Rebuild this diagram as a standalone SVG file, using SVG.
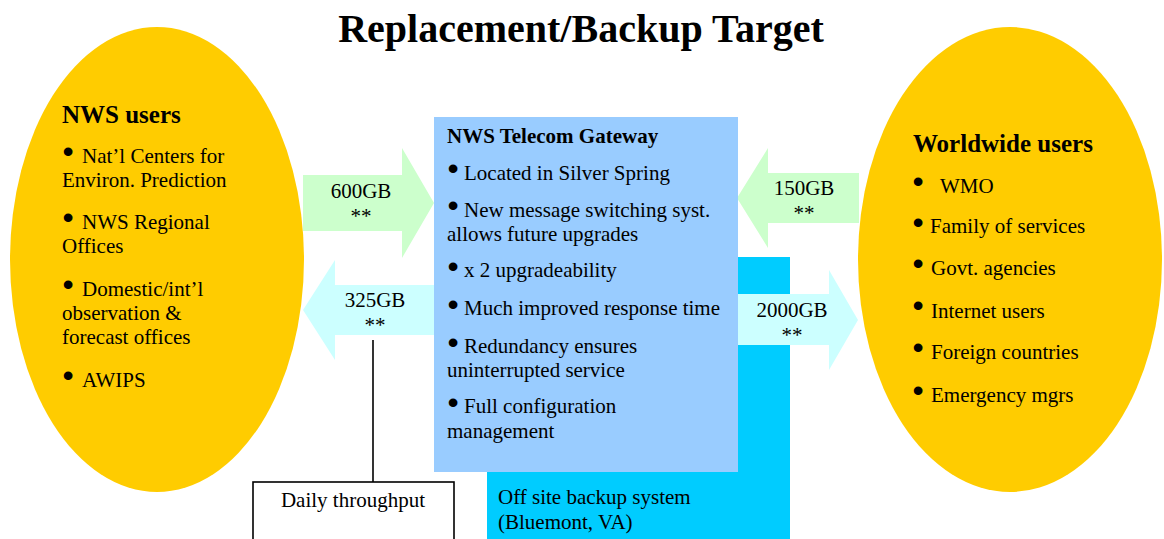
<svg xmlns="http://www.w3.org/2000/svg" width="1164" height="539" viewBox="0 0 1164 539">
<style>
text{font-family:"Liberation Serif","Times New Roman",serif;fill:#000}
.t{font-size:21px}
.h{font-size:25px;font-weight:bold}
.hb{font-size:21px;font-weight:bold}
.title{font-size:40px;font-weight:bold}
.b{font-family:"Liberation Sans",Arial,sans-serif;font-size:32px;text-anchor:middle}
.c{text-anchor:middle}
.ell{fill:#FFCC00}
.ag{fill:#CCFFCC}
.ac{fill:#CCFFFF}
</style>
<rect width="1164" height="539" fill="#fff"/>
<text class="title c" x="581" y="42">Replacement/Backup Target</text>

<g id="nws-users">
<ellipse class="ell" cx="157" cy="259.5" rx="147" ry="232.5"/>
<text class="h" x="62" y="123">NWS users</text>
<text class="b" x="68" y="162">•</text>
<text class="t" x="82" y="163">Nat’l Centers for</text>
<text class="t" x="62" y="187">Environ. Prediction</text>
<text class="b" x="68" y="228">•</text>
<text class="t" x="82" y="229">NWS Regional</text>
<text class="t" x="62" y="253">Offices</text>
<text class="b" x="68" y="295">•</text>
<text class="t" x="82" y="296">Domestic/int’l</text>
<text class="t" x="62" y="320">observation &amp;</text>
<text class="t" x="62" y="344">forecast offices</text>
<text class="b" x="68" y="386">•</text>
<text class="t" x="82" y="387">AWIPS</text>
</g>

<g id="worldwide-users">
<ellipse class="ell" cx="1010" cy="259.5" rx="152" ry="232.5"/>
<text class="h" x="913" y="152">Worldwide users</text>
<text class="b" x="918" y="192">•</text>
<text class="t" x="940" y="193">WMO</text>
<text class="b" x="918" y="233">•</text>
<text class="t" x="930" y="233">Family of services</text>
<text class="b" x="918" y="274">•</text>
<text class="t" x="931" y="275">Govt. agencies</text>
<text class="b" x="918" y="316">•</text>
<text class="t" x="931" y="318">Internet users</text>
<text class="b" x="918" y="358">•</text>
<text class="t" x="931" y="359">Foreign countries</text>
<text class="b" x="918" y="401">•</text>
<text class="t" x="931" y="402">Emergency mgrs</text>
</g>

<g id="backup-system">
<rect x="487" y="257" width="303" height="290" fill="#00CCFF"/>
<text class="t" x="498" y="504">Off site backup system</text>
<text class="t" x="498" y="529">(Bluemont, VA)</text>
</g>

<g id="connectors">
<polygon class="ag" points="303,175 402,175 402,148 434,203 402,258 402,231 303,231"/>
<polygon class="ac" points="436,285 335,285 335,260 303,310 335,360 335,335 436,335"/>
<polygon class="ag" points="859,173 768,173 768,148 737,198 768,248 768,223 859,223"/>
<polygon class="ac" points="736,294 829,294 829,270 858,320 829,370 829,345 736,345"/>
<line x1="373" y1="340" x2="373" y2="482" stroke="#000" stroke-width="1.6"/>
</g>

<g id="arrow-labels">
<text class="t c" x="361" y="198">600GB</text>
<text class="t c" x="361" y="223">**</text>
<text class="t c" x="375" y="307">325GB</text>
<text class="t c" x="375" y="332">**</text>
<text class="t c" x="804" y="195">150GB</text>
<text class="t c" x="804" y="220">**</text>
<text class="t c" x="792" y="317">2000GB</text>
<text class="t c" x="792" y="342">**</text>
</g>

<g id="gateway">
<rect x="434" y="117" width="304" height="355" fill="#99CCFF"/>
<text class="hb" x="447" y="143">NWS Telecom Gateway</text>
<text class="b" x="453" y="179">•</text>
<text class="t" x="464" y="180">Located in Silver Spring</text>
<text class="b" x="453" y="216">•</text>
<text class="t" x="464" y="217">New message switching syst.</text>
<text class="t" x="447" y="241">allows future upgrades</text>
<text class="b" x="453" y="277">•</text>
<text class="t" x="464" y="277">x 2 upgradeability</text>
<text class="b" x="453" y="315">•</text>
<text class="t" x="464" y="315">Much improved response time</text>
<text class="b" x="453" y="353">•</text>
<text class="t" x="464" y="353">Redundancy ensures</text>
<text class="t" x="447" y="377">uninterrupted service</text>
<text class="b" x="453" y="413">•</text>
<text class="t" x="464" y="413">Full configuration</text>
<text class="t" x="447" y="438">management</text>
</g>

<g id="daily-throughput">
<rect x="253" y="482" width="201" height="70" fill="#fff" stroke="#000" stroke-width="1.6"/>
<text class="t c" x="353" y="507">Daily throughput</text>
</g>
</svg>
